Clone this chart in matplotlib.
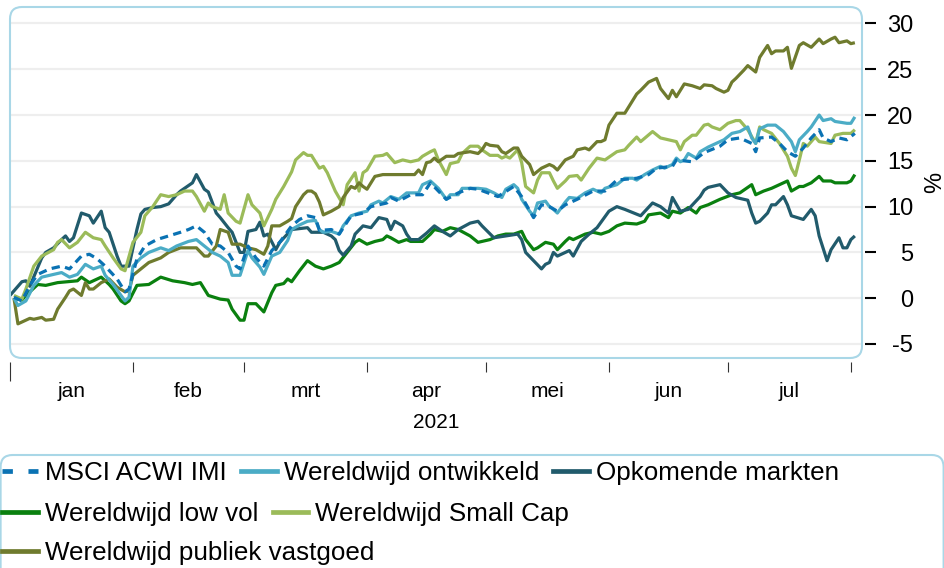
import numpy as np
import pandas as pd
import matplotlib
matplotlib.use('Agg')
import matplotlib.pyplot as plt
from matplotlib.patches import FancyBboxPatch
from matplotlib.lines import Line2D

plt.rcParams['font.family'] = ['Liberation Sans', 'DejaVu Sans']

# ---------------- data (day offsets from 2021-01-01, cumulative return in %) ----------------
acwi_days = [1, 3, 5, 7, 10, 13, 15, 18, 20, 22, 24, 27, 29, 30, 32, 34, 37, 40, 43, 45, 47, 49, 51, 53,
             55, 57, 58, 60, 62, 64, 66, 68, 71, 73, 75, 77, 78, 81, 83, 86, 89, 91, 95, 96, 98, 101,
             104, 106, 110, 113, 116, 118, 123, 127, 129, 132, 134, 136, 138, 140, 143, 147, 150, 153,
             158, 161, 163, 167, 168, 172, 175, 179, 181, 184, 187, 188, 189, 192, 194, 196, 198, 200,
             202, 204, 205, 207, 209, 211, 213]
acwi_vals = [0.1, -0.3, 1.4, 2.6, 3.2, 3.5, 3.2, 4.6, 4.8, 4.3, 3.5, 2.1, 0.7, 1.0, 4.3, 5.7, 6.4, 6.8,
             7.2, 7.5, 7.9, 7.2, 5.9, 5.7, 5.0, 3.5, 3.2, 5.7, 4.4, 3.5, 5.2, 6.1, 7.9, 8.6, 9.0, 8.8,
             7.4, 7.5, 7.0, 9.0, 9.3, 10.0, 10.4, 11.0, 10.6, 11.3, 11.3, 12.6, 10.8, 11.5, 12.0, 11.9,
             11.1, 12.2, 11.1, 8.8, 10.2, 10.0, 9.5, 10.2, 10.8, 11.7, 11.7, 12.9, 13.1, 13.5, 14.2,
             14.4, 15.1, 14.9, 15.9, 16.6, 17.3, 17.5, 16.9, 16.0, 17.5, 17.6, 16.9, 16.0, 15.5, 16.4,
             17.5, 18.4, 17.5, 17.1, 17.5, 17.3, 18.0]

dev_days = [1, 2, 4, 6, 8, 11, 13, 15, 17, 19, 21, 23, 24, 26, 28, 29, 30, 31, 33, 35, 38, 40, 42, 45,
            47, 49, 51, 53, 55, 56, 58, 60, 61, 63, 64, 66, 68, 70, 71, 73, 75, 77, 78, 79, 81, 83,
            84, 86, 88, 90, 91, 93, 94, 96, 98, 100, 103, 104, 106, 108, 110, 111, 113, 114, 116, 118,
            120, 122, 124, 125, 127, 128, 129, 131, 132, 133, 135, 136, 137, 138, 140, 141, 143, 145,
            147, 149, 150, 153, 155, 157, 158, 160, 162, 164, 165, 167, 168, 169, 170, 171, 173, 174,
            176, 177, 180, 182, 184, 186, 187, 188, 189, 191, 193, 195, 197, 198, 199, 201, 202, 204,
            205, 207, 208, 211, 212, 213]
dev_vals = [0.0, -0.8, -0.3, 1.4, 2.3, 2.6, 2.8, 2.3, 2.6, 3.7, 3.2, 3.5, 2.5, 1.5, 0.3, -0.3, 0.1, 3.5,
            4.4, 5.0, 5.5, 5.2, 5.7, 6.2, 6.4, 5.7, 5.0, 4.6, 3.9, 2.5, 2.5, 5.2, 4.4, 3.4, 2.6, 4.6,
            5.0, 6.3, 7.5, 8.0, 8.4, 8.5, 7.5, 7.2, 7.3, 7.0, 7.9, 9.0, 9.3, 9.5, 10.2, 10.6, 10.4,
            11.1, 10.8, 11.5, 11.5, 12.4, 12.8, 12.0, 10.8, 11.3, 11.3, 12.0, 12.0, 12.0, 11.9, 11.5,
            11.0, 11.9, 12.4, 12.0, 10.8, 9.5, 9.0, 10.4, 10.6, 10.0, 9.7, 9.3, 10.5, 11.0, 10.9, 11.5,
            11.9, 11.5, 12.0, 12.4, 13.1, 13.1, 12.9, 13.5, 14.0, 14.4, 14.2, 14.6, 15.3, 14.9, 15.1,
            15.8, 15.3, 16.0, 16.5, 16.7, 17.3, 18.0, 18.2, 18.7, 17.5, 16.9, 18.5, 18.9, 18.9, 18.2,
            17.1, 16.0, 17.3, 18.2, 18.7, 20.0, 19.4, 19.6, 19.3, 19.1, 19.1, 19.8]

em_days = [0, 3, 4, 5, 8, 9, 11, 13, 14, 15, 16, 18, 20, 21, 23, 24, 25, 27, 28, 30, 32, 33, 34, 36, 38,
           40, 42, 43, 46, 47, 49, 50, 52, 53, 55, 56, 58, 59, 60, 62, 63, 64, 65, 67, 68, 71, 73, 75,
           76, 79, 81, 82, 83, 84, 86, 87, 89, 91, 93, 95, 96, 97, 99, 100, 101, 103, 105, 107, 109,
           111, 113, 116, 118, 119, 122, 125, 128, 129, 130, 132, 134, 135, 136, 137, 138, 140, 141,
           142, 144, 146, 148, 151, 153, 155, 159, 162, 164, 166, 167, 169, 171, 174, 175, 176, 179,
           181, 183, 186, 187, 188, 189, 191, 192, 193, 195, 196, 197, 200, 202, 203, 204, 206, 207,
           209, 210, 211, 212, 213]
em_vals = [0.3, 1.8, 1.9, 1.3, 4.4, 5.0, 5.5, 6.4, 6.8, 6.2, 6.6, 9.3, 9.0, 8.2, 9.5, 7.7, 7.2, 4.6, 3.5,
           3.5, 7.5, 9.2, 9.7, 9.9, 10.0, 10.3, 11.3, 11.7, 12.6, 13.5, 11.9, 11.6, 9.3, 8.8, 7.7, 7.2,
           5.0, 5.0, 7.3, 7.5, 8.3, 6.8, 7.0, 5.3, 6.1, 7.5, 7.6, 7.7, 7.2, 7.2, 6.8, 6.4, 5.2, 4.7,
           5.7, 7.0, 7.9, 7.7, 8.8, 8.6, 7.5, 8.4, 7.9, 7.0, 6.4, 6.4, 7.1, 7.9, 7.3, 6.8, 7.5, 8.2,
           8.4, 7.9, 6.6, 6.8, 7.0, 6.4, 5.0, 4.1, 3.2, 3.7, 3.9, 5.0, 4.6, 5.0, 5.2, 4.6, 6.2, 7.0,
           7.7, 9.5, 10.0, 9.7, 9.0, 10.4, 10.0, 9.3, 11.0, 9.5, 9.7, 11.1, 11.8, 12.1, 12.4, 11.5,
           11.0, 10.7, 9.3, 8.2, 8.4, 9.3, 10.2, 10.2, 11.1, 10.2, 9.0, 8.6, 9.7, 9.0, 6.8, 4.1, 5.3,
           6.6, 5.5, 5.5, 6.4, 6.8]

lowvol_days = [1, 3, 4, 7, 9, 12, 17, 18, 20, 23, 25, 26, 28, 29, 30, 32, 35, 38, 41, 44, 46, 48, 50,
               53, 55, 56, 58, 59, 60, 62, 64, 66, 67, 69, 70, 71, 73, 75, 77, 79, 81, 83, 85, 87, 88,
               90, 92, 94, 95, 96, 98, 100, 101, 104, 106, 107, 109, 111, 113, 116, 118, 121, 123, 125,
               127, 129, 130, 132, 133, 135, 137, 138, 140, 141, 142, 145, 147, 149, 151, 153, 155,
               158, 160, 161, 164, 166, 167, 169, 171, 173, 174, 176, 177, 179, 182, 184, 187, 188,
               190, 192, 194, 196, 197, 199, 200, 202, 204, 205, 207, 208, 211, 212, 213]
lowvol_vals = [0.0, -0.2, 0.3, 1.5, 1.4, 1.7, 1.9, 2.3, 1.7, 2.3, 1.5, 1.0, -0.3, -0.6, -0.3, 1.4, 1.5,
               2.3, 1.9, 1.7, 1.5, 1.7, 0.3, -0.1, -0.2, -1.2, -2.4, -2.4, -0.6, -0.6, -1.5, 0.6, 1.4,
               1.6, 2.1, 1.8, 3.0, 4.1, 3.5, 3.2, 3.5, 3.9, 5.0, 6.1, 6.4, 5.9, 6.2, 6.4, 6.8, 6.6, 6.1,
               6.4, 6.2, 6.2, 7.0, 7.5, 7.3, 7.7, 7.5, 6.8, 6.1, 6.4, 6.8, 7.0, 7.0, 7.3, 6.4, 5.3, 5.5,
               6.1, 5.9, 5.3, 6.2, 6.6, 6.4, 7.0, 7.2, 7.0, 7.3, 7.9, 8.2, 8.1, 8.4, 9.1, 9.3, 8.8, 9.5,
               9.3, 9.9, 9.3, 9.9, 10.2, 10.4, 10.8, 11.3, 11.5, 12.4, 11.3, 11.7, 12.0, 12.4, 12.8,
               11.7, 12.2, 12.2, 12.6, 13.3, 12.8, 12.8, 12.6, 12.6, 12.8, 13.5]

small_days = [1, 3, 4, 6, 8, 11, 12, 13, 15, 17, 19, 21, 23, 24, 26, 28, 29, 31, 33, 34, 36, 38, 40, 42,
              44, 46, 47, 49, 50, 51, 53, 54, 55, 57, 58, 60, 61, 63, 64, 66, 67, 69, 71, 72, 74, 75,
              76, 78, 79, 80, 82, 84, 85, 87, 88, 89, 90, 92, 94, 95, 97, 99, 101, 103, 104, 106, 107,
              108, 110, 111, 113, 114, 116, 118, 119, 121, 123, 124, 125, 126, 128, 129, 130, 132, 133,
              134, 136, 137, 138, 140, 141, 143, 144, 146, 148, 150, 153, 155, 156, 158, 159, 162, 164,
              166, 168, 169, 170, 172, 173, 175, 176, 177, 179, 181, 183, 184, 186, 188, 189, 190, 192,
              194, 196, 197, 198, 199, 200, 201, 203, 204, 207, 208, 210, 212, 213]
small_vals = [0.3, -0.1, 1.0, 3.5, 4.6, 5.3, 6.1, 6.4, 5.5, 6.1, 7.2, 6.6, 6.4, 5.7, 4.4, 3.2, 3.0, 6.1,
              7.2, 9.0, 10.0, 11.3, 11.1, 11.3, 11.7, 11.7, 11.1, 9.5, 10.4, 10.0, 9.7, 11.3, 9.3, 8.4,
              8.2, 11.3, 10.2, 9.3, 7.9, 9.7, 10.8, 12.2, 13.8, 15.1, 15.9, 15.6, 15.6, 14.2, 14.4,
              13.7, 11.7, 10.2, 12.4, 13.7, 11.7, 13.7, 14.0, 15.5, 15.6, 15.8, 14.8, 15.1, 14.9, 15.1,
              15.5, 16.0, 16.2, 15.1, 13.5, 14.7, 14.9, 15.8, 16.6, 16.6, 16.2, 15.6, 15.6, 15.3, 15.5,
              15.3, 16.2, 14.8, 12.2, 11.5, 12.9, 13.7, 13.7, 12.8, 12.0, 12.8, 13.3, 13.4, 12.9, 14.2,
              15.3, 15.1, 16.0, 16.2, 16.7, 17.6, 17.1, 18.2, 17.5, 17.3, 17.1, 16.2, 17.1, 17.8, 17.8,
              18.9, 19.0, 18.7, 18.4, 19.1, 19.4, 19.4, 18.4, 16.9, 18.7, 18.4, 18.0, 16.9, 15.5, 14.2,
              13.4, 15.1, 16.9, 16.6, 17.6, 17.1, 16.9, 17.8, 18.0, 18.0, 18.4]

reit_days = [1, 2, 3, 5, 6, 8, 9, 11, 12, 14, 15, 16, 18, 19, 20, 21, 23, 25, 27, 29, 30, 31, 33, 35,
             38, 40, 43, 45, 47, 49, 50, 52, 53, 55, 56, 58, 60, 62, 64, 65, 66, 68, 70, 71, 72, 74,
             75, 76, 77, 78, 79, 81, 83, 84, 86, 87, 88, 89, 90, 92, 94, 96, 98, 100, 102, 103, 104,
             105, 106, 107, 108, 110, 112, 113, 116, 118, 119, 120, 121, 123, 124, 125, 127, 128, 129,
             131, 132, 134, 136, 137, 138, 140, 141, 142, 143, 145, 146, 148, 149, 150, 151, 153, 155,
             156, 158, 159, 161, 163, 164, 166, 167, 168, 170, 172, 174, 175, 177, 178, 180, 181, 182,
             183, 185, 186, 188, 189, 191, 192, 193, 195, 196, 197, 199, 200, 202, 204, 205, 207, 208,
             209, 211, 212, 213]
reit_vals = [0.0, -2.8, -2.6, -2.2, -2.3, -2.1, -2.4, -2.3, -1.2, 0.1, 0.8, 1.0, 0.3, 1.7, 1.0, 1.0, 1.7,
             2.1, 1.2, 0.7, 0.8, 2.5, 3.2, 3.9, 4.4, 5.0, 5.5, 5.5, 5.5, 4.6, 4.6, 5.7, 7.5, 7.2, 5.9,
             5.9, 5.5, 5.3, 4.8, 5.7, 7.9, 7.9, 8.4, 8.7, 10.0, 11.3, 11.7, 11.7, 11.4, 10.5, 9.1, 9.5,
             10.0, 11.0, 12.2, 12.0, 12.6, 12.2, 11.9, 13.3, 13.5, 13.5, 13.5, 13.5, 13.5, 14.0, 13.5,
             14.8, 14.9, 15.3, 14.9, 15.5, 15.5, 15.8, 16.0, 15.8, 16.2, 16.9, 16.7, 16.6, 16.0, 15.8,
             16.4, 16.4, 15.5, 14.6, 13.5, 14.2, 14.6, 14.4, 14.0, 15.1, 15.3, 15.5, 16.2, 16.4, 16.2,
             17.1, 17.1, 17.3, 18.9, 20.2, 20.2, 20.9, 22.3, 22.7, 23.6, 24.0, 22.9, 21.8, 22.7, 22.0,
             23.4, 23.2, 22.9, 23.3, 23.2, 22.9, 22.5, 22.7, 23.6, 24.0, 24.9, 25.4, 24.7, 26.3, 27.6,
             26.7, 27.0, 27.0, 27.4, 25.1, 27.6, 27.9, 27.4, 28.3, 27.8, 28.3, 28.5, 27.9, 28.1, 27.8,
             27.9]

series_names = ['MSCI ACWI IMI', 'Wereldwijd ontwikkeld', 'Opkomende markten',
                'Wereldwijd low vol', 'Wereldwijd Small Cap', 'Wereldwijd publiek vastgoed']
month_labels = ['jan', 'feb', 'mrt', 'apr', 'mei', 'jun', 'jul']
year_label = '2021'
y_ticks = [-5, 0, 5, 10, 15, 20, 25, 30]

colors = {
    'MSCI ACWI IMI': '#0a72b3',
    'Wereldwijd ontwikkeld': '#4bacc6',
    'Opkomende markten': '#215b6c',
    'Wereldwijd low vol': '#0a800f',
    'Wereldwijd Small Cap': '#9bbb59',
    'Wereldwijd publiek vastgoed': '#6f7b2e',
}

data = {
    'MSCI ACWI IMI': (acwi_days, acwi_vals),
    'Wereldwijd ontwikkeld': (dev_days, dev_vals),
    'Opkomende markten': (em_days, em_vals),
    'Wereldwijd low vol': (lowvol_days, lowvol_vals),
    'Wereldwijd Small Cap': (small_days, small_vals),
    'Wereldwijd publiek vastgoed': (reit_days, reit_vals),
}

start = pd.Timestamp('2021-01-01')


def to_dates(days):
    return start + pd.to_timedelta(np.asarray(days, dtype=float), unit='D')


# ---------------- figure ----------------
W, H = 945, 568
fig = plt.figure(figsize=(W / 100, H / 100), dpi=100)
ax = fig.add_axes([10 / W, 1 - 358 / H, 852 / W, 351 / H])
ax.set_facecolor('white')

zorders = {'MSCI ACWI IMI': 9, 'Wereldwijd ontwikkeld': 8, 'Opkomende markten': 4,
           'Wereldwijd low vol': 3, 'Wereldwijd Small Cap': 5, 'Wereldwijd publiek vastgoed': 6}
handles = []
for name in series_names:
    d, v = data[name]
    ls = (0, (2.6, 1.7)) if name == 'MSCI ACWI IMI' else '-'
    ax.plot(to_dates(d), v, color=colors[name], lw=2.3, ls=ls, zorder=zorders[name],
            solid_capstyle='butt', solid_joinstyle='round')
    handles.append(Line2D([], [], color=colors[name], lw=3.4,
                          ls=(0, (2.2, 3.3)) if name == 'MSCI ACWI IMI' else '-'))

ax.set_ylim(-6.53, 31.8)
ax.set_xlim(start, start + pd.Timedelta(days=214.8))

for s in ax.spines.values():
    s.set_visible(False)
ax.spines['bottom'].set_position(('outward', 3))
ax.spines['right'].set_position(('outward', 2.2))

# x ticks: month boundaries (major), month names centred (minor)
month_starts = pd.date_range('2021-01-01', '2021-08-01', freq='MS')
mids = [month_starts[i] + (month_starts[i + 1] - month_starts[i]) / 2 for i in range(len(month_starts) - 1)]
ax.set_xticks(month_starts)
ax.set_xticklabels([''] * len(month_starts))
ax.set_xticks(mids, minor=True)
ax.set_xticklabels(month_labels, minor=True)
ax.tick_params(axis='x', which='major', length=7.5, width=0.8, color='#333333')
ax.tick_params(axis='x', which='minor', length=0, pad=14, labelsize=15, labelcolor='black')
ax.set_xlabel(year_label, fontsize=15, labelpad=9)
# the first boundary tick (start of the year) is drawn longer
ax.xaxis.get_major_ticks()[0].tick1line.set_markersize(14)

# y axis on right
ax.yaxis.tick_right()
ax.yaxis.set_label_position('right')
ax.set_yticks(y_ticks)
ax.set_yticklabels([str(t) for t in y_ticks])
ax.tick_params(axis='y', which='major', length=8, width=1.5, color='black', pad=26.6, labelsize=17)
for lab in ax.get_yticklabels():
    lab.set_horizontalalignment('right')
ax.set_ylabel('%', fontsize=17, rotation=90, labelpad=8)

ax.yaxis.grid(True, color='#eeeeee', lw=1.6)
ax.set_axisbelow(True)

# rounded frame around plot area
pos = ax.get_position()
fw, fh = fig.get_size_inches()
frame = FancyBboxPatch((pos.x0 * fw, pos.y0 * fh), pos.width * fw, pos.height * fh,
                       boxstyle='round,pad=0,rounding_size=0.12', transform=fig.dpi_scale_trans,
                       facecolor='none', edgecolor='#a9d7e7', lw=1.5, clip_on=False, zorder=20)
fig.patches.append(frame)

# legend frame
legbox = FancyBboxPatch((0.006, -0.3), fw - 0.02, (H - 455) / 100 + 0.3,
                        boxstyle='round,pad=0,rounding_size=0.12', transform=fig.dpi_scale_trans,
                        facecolor='none', edgecolor='#a9d7e7', lw=1.5, clip_on=False, zorder=0)
fig.patches.append(legbox)

rows = [[0, 1, 2], [3, 4], [5]]
row_y = [1 - 473 / H, 1 - 514 / H, 1 - 553 / H]
for r, yy in zip(rows, row_y):
    fig.legend([handles[i] for i in r], [series_names[i] for i in r], loc='center left',
               bbox_to_anchor=(2 / W, yy), ncol=len(r), frameon=False, fontsize=18.7,
               handlelength=1.38, handletextpad=0.27, columnspacing=0.55, borderpad=0,
               borderaxespad=0)

fig.savefig('out.png', dpi=100)
